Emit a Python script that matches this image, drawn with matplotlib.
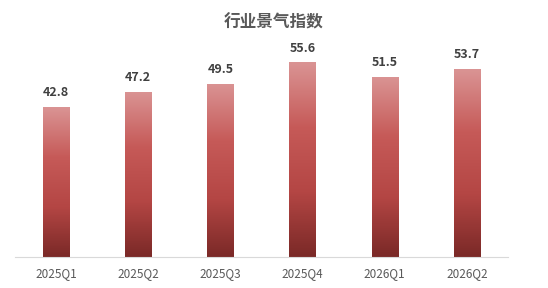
import numpy as np
import matplotlib
matplotlib.use("Agg")
import matplotlib.pyplot as plt
from matplotlib.colors import LinearSegmentedColormap

plt.rcParams['font.family'] = ['Noto Sans CJK SC', 'DejaVu Sans']

quarters = ['2025Q1', '2025Q2', '2025Q3', '2025Q4', '2026Q1', '2026Q2']
values = [42.8, 47.2, 49.5, 55.6, 51.5, 53.7]
title = '行业景气指数'

# bottom -> top gradient
grad = LinearSegmentedColormap.from_list('bar', ['#7a2927', '#b44644', '#c65a58', '#da9494'])

fig = plt.figure(figsize=(5.48, 2.88), dpi=100)
ax = fig.add_axes([15/548, 31/288, 493/548, 210/288])

x = np.arange(len(quarters))
width = 0.32
ymax = 60
bars = ax.bar(x, values, width=width, color='none')
g = np.linspace(0, 1, 256).reshape(-1, 1)
for b in bars:
    x0, w, h = b.get_x(), b.get_width(), b.get_height()
    im = ax.imshow(g, cmap=grad, origin='lower', aspect='auto',
                   extent=[x0, x0 + w, 0, h], zorder=2)
    im.set_clip_path(b)

for xi, v in zip(x, values):
    ax.text(xi, v + 2.2, f'{v:.1f}', ha='center', va='bottom',
            fontsize=9, fontweight='bold', color='#404040')

ax.set_xlim(-0.5, len(quarters) - 0.5)
ax.set_ylim(0, ymax)
ax.set_xticks(x)
ax.set_xticklabels(quarters, fontsize=8.5, color='#595959')
ax.tick_params(axis='x', length=0, pad=7)
ax.set_yticks([])
for s in ['top', 'left', 'right']:
    ax.spines[s].set_visible(False)
ax.spines['bottom'].set_color('#d9d9d9')

fig.text(0.5, 1 - 22/288, title, ha='center', va='center',
         fontsize=12, fontweight='bold', color='#595959')

fig.savefig('out.png', dpi=100)
